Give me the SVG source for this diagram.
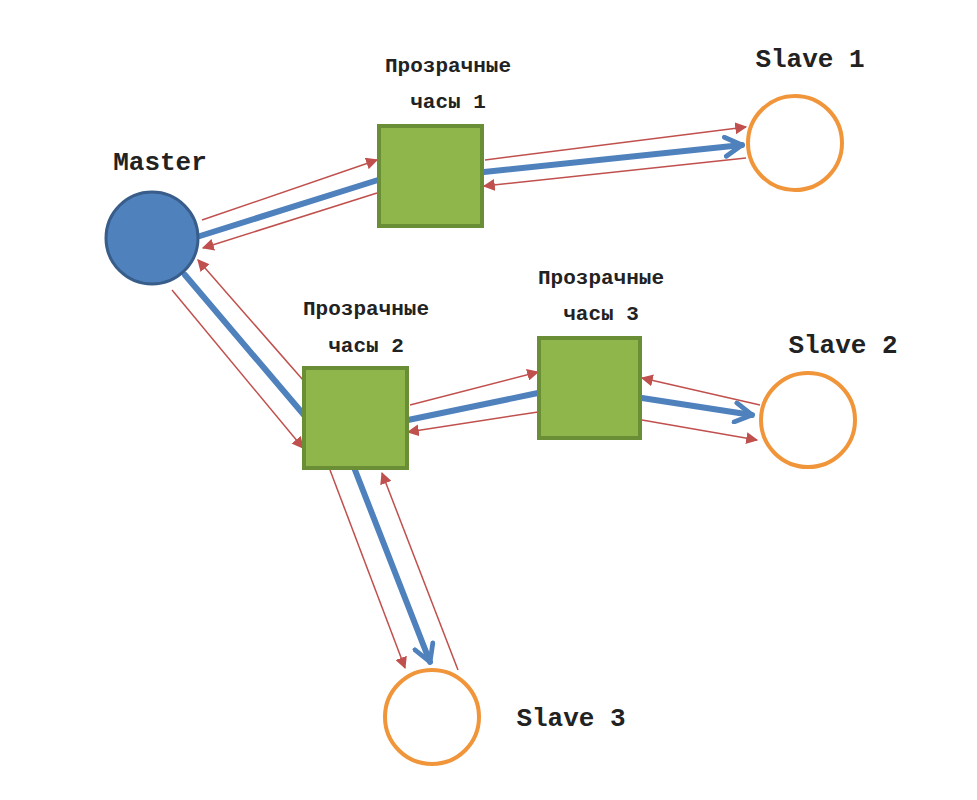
<svg xmlns="http://www.w3.org/2000/svg" width="977" height="800" viewBox="0 0 977 800">
<style>
.t{font-family:"Liberation Mono","DejaVu Sans Mono",monospace;font-weight:bold;fill:#222}
.clk{fill:#8fb64b;stroke:#6a8e35;stroke-width:4}
.sl{fill:#fff;stroke:#f0953a;stroke-width:4}
.r{stroke:#c0504d;stroke-width:1.5;fill:none;marker-end:url(#rh)}
.b{stroke:#4f81bd;stroke-width:6;fill:none;stroke-linecap:round}
.bh{marker-end:url(#bh)}
</style>
<defs>
<marker id="rh" viewBox="0 0 10 10" refX="9" refY="5" markerWidth="12" markerHeight="12" markerUnits="userSpaceOnUse" orient="auto"><path d="M0,0L10,5L0,10Z" fill="#c0504d"/></marker>
<marker id="bh" viewBox="0 0 10 10" refX="8" refY="5" markerWidth="4" markerHeight="4" orient="auto"><path d="M1,1L8,5L1,9" fill="none" stroke="#4f81bd" stroke-width="2" stroke-linejoin="round" stroke-linecap="round"/></marker>
</defs>
<rect width="977" height="800" fill="#fff"/>
<g id="connectors">
<path class="b" d="M200,236L378,180"/>
<path class="b bh" d="M484,172L742,145"/>
<path class="b" d="M185,275L304,415"/>
<path class="b" d="M408,420L538,393"/>
<path class="b bh" d="M642,398L752,415"/>
<path class="b bh" d="M355,470L430,662"/>
<path class="r" d="M202,220L377,160"/>
<path class="r" d="M377,193L203,248"/>
<path class="r" d="M485,160L746,127"/>
<path class="r" d="M746,158L484,186"/>
<path class="r" d="M172,290L303,448"/>
<path class="r" d="M303,380L198,260"/>
<path class="r" d="M410,405L538,372"/>
<path class="r" d="M538,412L408,432"/>
<path class="r" d="M760,405L642,378"/>
<path class="r" d="M642,420L757,440"/>
<path class="r" d="M330,470L405,668"/>
<path class="r" d="M458,670L382,473"/>
</g>
<g id="master"><circle cx="152" cy="238" r="46" fill="#4f81bd" stroke="#385d8a" stroke-width="3"/><text class="t" x="160" y="170" font-size="26" text-anchor="middle">Master</text></g>
<g id="clock1"><rect class="clk" x="379" y="126" width="103" height="100"/><text class="t" font-size="21" text-anchor="middle"><tspan x="448" y="72">Прозрачные</tspan><tspan x="448" y="108">часы 1</tspan></text></g>
<g id="clock2"><rect class="clk" x="304" y="368" width="103" height="100"/><text class="t" font-size="21" text-anchor="middle"><tspan x="366" y="315">Прозрачные</tspan><tspan x="366" y="352">часы 2</tspan></text></g>
<g id="clock3"><rect class="clk" x="539" y="338" width="101" height="100"/><text class="t" font-size="21" text-anchor="middle"><tspan x="601" y="284">Прозрачные</tspan><tspan x="601" y="320">часы 3</tspan></text></g>
<g id="slave1"><circle class="sl" cx="795" cy="143" r="47"/><text class="t" x="810" y="67" font-size="26" text-anchor="middle">Slave 1</text></g>
<g id="slave2"><circle class="sl" cx="808" cy="420" r="47"/><text class="t" x="843" y="353" font-size="26" text-anchor="middle">Slave 2</text></g>
<g id="slave3"><circle class="sl" cx="432" cy="717" r="47"/><text class="t" x="571" y="726" font-size="26" text-anchor="middle">Slave 3</text></g>
</svg>
